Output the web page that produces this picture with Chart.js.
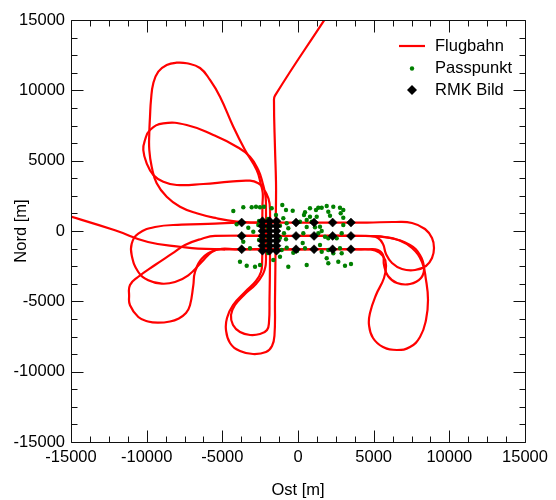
<!DOCTYPE html>
<html><head><meta charset="utf-8">
<script src="https://cdn.jsdelivr.net/npm/chart.js@4"></script>
<style>html,body{margin:0;padding:0;background:#fff;}#wrap{width:556px;height:500px;position:relative;}</style>
</head><body><div id="wrap"><canvas id="c" width="556" height="500"></canvas></div>
<script>
// ---------- DATA ----------
const majorTicks = [-15000, -10000, -5000, 0, 5000, 10000, 15000];
const minorTicks = [-13750, -12500, -11250, -8750, -7500, -6250, -3750, -2500, -1250,
  1250, 2500, 3750, 6250, 7500, 8750, 11250, 12500, 13750];

// Flugbahn (flight path), pieces as [Ost, Nord] in metres
const pathEntry = [
  [2300, 15920], [1784, 15070], [-1520, 9620], [-1586, 9197], [-1520, 5879], [-1454, 3505],
  [-1454, 2083], [-1480, 0], [-1490, -2000], [-1505, -3500], [-1520, -4905], [-1553, -7393],
  [-1718, -8175], [-2115, -8602], [-2974, -8744], [-3833, -8531], [-4493, -7962], [-4758, -7038],
  [-4692, -6185], [-4295, -5261], [-3502, -4336], [-2775, -3555], [-2445, -2915], [-2370, -2204],
  [-2360, 0], [-2350, 1800], [-2330, 2700], [-2445, 3270], [-2729, 4336], [-3502, 5758],
  [-4275, 7415], [-5154, 9547], [-5815, 10735], [-6476, 11588], [-7355, 11922], [-8016, 11965],
  [-8676, 11801], [-9231, 11325], [-9562, 10500], [-9714, 9313], [-9780, 8126], [-9826, 6967],
  [-9826, 5758], [-9668, 4571], [-9337, 3391], [-8676, 2438], [-7797, 1727], [-6694, 1258],
  [-5372, 903], [-4051, 661], [-2974, 600], [0, 600], [4560, 600],
  [6410, 640], [7533, 570], [8392, 142], [8855, -498], [8987, -1209], [8855, -1919], [8458, -2488],
  [7731, -2773], [6872, -2701], [6212, -2275], [5815, -1635], [5617, -924], [5286, -498],
  [4758, -355], [4097, -350], [0, -350], [-5485, -350],
  [-6344, -547], [-7467, -995], [-8326, -1614], [-9449, -2417], [-10573, -3270], [-11101, -3839],
  [-11160, -4600], [-11101, -5282], [-10553, -6114], [-9912, -6434], [-9231, -6519], [-8458, -6434],
  [-7910, -6235], [-7401, -5829], [-7137, -5282], [-6918, -3860], [-6806, -2915], [-6363, -1969],
  [-5485, -1372], [-4824, -1300], [0, -1300], [4097, -1300],
  [5088, -1386], [5617, -1777], [5815, -2417], [5683, -3341], [5154, -4550], [4758, -5829],
  [4692, -6682], [4956, -7607], [5617, -8246], [6542, -8460], [7401, -8246], [8062, -7536],
  [8458, -6327], [8590, -4905], [8458, -3483], [8194, -2204], [7533, -1209], [6608, -640],
  [5749, -427], [4758, -355], [4000, -350], [-4000, -350]
];
const pathWestLoop = [
  [-2500, 600], [-4000, 600], [-5485, 519], [-7685, 448], [-9449, 284], [-10553, -192],
  [-10989, -903], [-10989, -1727], [-10553, -2915], [-9892, -3505], [-9007, -3746], [-8128, -3626],
  [-7249, -3149], [-6363, -2204], [-5703, -1493], [-5042, -1260], [-4163, -1300], [0, -1300],
  [4626, -1300], [5286, -1351], [5617, -1706], [5683, -2417], [5947, -3199], [6542, -3697],
  [7401, -3768], [8128, -3341], [8326, -2630], [8062, -1706], [7401, -995], [6079, -498],
  [4427, -355], [0, -350]
];
const pathExit = [
  [-4824, -1300], [-6608, -1258], [-7665, -1137], [-9912, -782], [-12093, 50], [-15700, 1250]
];
const pathNorthSouth = [
  [-2115, -2062], [-2115, 1500], [-2150, 2500], [-2333, 3391], [-2623, 4336], [-3172, 5282],
  [-4051, 5993], [-5597, 6825], [-7355, 7536], [-8901, 7656], [-9780, 7180], [-10110, 6469],
  [-10223, 5758], [-9998, 4813], [-9562, 3981], [-8901, 3505], [-8016, 3270], [-6258, 3341],
  [-4493, 3505], [-3172, 3576], [-2623, 3391], [-2293, 3036], [-1950, 2300], [-1850, 1500],
  [-1850, -2000], [-1883, -4905], [-1916, -6469], [-2048, -7038], [-2511, -7322], [-3172, -7393],
  [-3833, -7180], [-4295, -6682], [-4427, -5972], [-4163, -5261], [-3502, -4479], [-2775, -3768],
  [-2313, -3057], [-2150, -2500], [-2115, -2062]
];
const pathPieces = [pathEntry, pathWestLoop, pathExit, pathNorthSouth];

// Passpunkte (ground control points)
const passpunkt = [
  [-4275, 1422], [-3615, 1685], [-3060, 1685], [-2775, 1727], [-2511, 1685], [-2247, 1727],
  [-1738, 1614], [-1037, 1848], [-793, 1493], [-350, 1443], [-4051, 476], [-3284, 235],
  [-2954, -50], [-971, 903], [-747, 547], [-641, 192], [-925, -164], [-1189, -476],
  [-3615, -761], [-3172, -1230], [-1077, -1351], [-747, -1187], [-3833, -2182], [-3390, -2467],
  [-2841, -2538], [-2511, -2417], [-1632, -2062], [-1189, -1827], [-641, -2538], [-1982, 853],
  [-1982, 213], [-1982, -427], [-1982, -995], [-1982, -1564], [-2577, 711], [-2577, -640],
  [-1454, 1137], [-1454, -924], [-2623, 427], [-1189, 377], [-793, -590], [-311, -1543],
  [-66, -1422], [132, 661], [350, -164], [463, -1230], [575, -2417], [575, 782],
  [463, 1329], [793, 1614], [1189, 1493], [1341, 1656], [1566, 1656], [1897, 1777],
  [2333, 1727], [2775, 1656], [2993, 1493], [905, 661], [1236, 1017], [2002, 1372],
  [2115, 1088], [2822, 1258], [2993, 945], [1454, 306], [1566, 0], [1784, -405],
  [2002, -519], [2993, 427], [311, -853], [1454, -995], [1566, -1472], [2002, -1351],
  [2333, -1585], [2775, -1230], [2888, -1585], [1897, -1941], [2002, -2296], [2663, -2182],
  [3106, -2467], [3502, -2346], [1341, -164], [2557, -519], [2888, -164], [575, 284],
  [1123, 263], [396, 1137], [793, 1017]
];

// RMK Bild (camera exposure positions)
const rmkBild = [
  [-3720, 600], [-130, 600], [1060, 600], [2290, 600], [3500, 600],
  [-3720, -350], [-130, -350], [1060, -350], [2290, -350], [3500, -350],
  [-3720, -1300], [-130, -1300], [1060, -1300], [2290, -1300], [3500, -1300],
  [-2350, 700], [-2350, 350], [-2350, 0], [-2350, -350], [-2350, -700], [-2350, -1050], [-2350, -1400],
  [-1880, 700], [-1880, 350], [-1880, 0], [-1880, -350], [-1880, -700], [-1880, -1050], [-1880, -1400],
  [-1420, 700], [-1420, 350], [-1420, 0], [-1420, -350], [-1420, -700], [-1420, -1050], [-1420, -1400]
];

const labels = { path: 'Flugbahn', gcp: 'Passpunkt', rmk: 'RMK Bild', x: 'Ost [m]', y: 'Nord [m]' };

// ---------- CHART ----------
const FAM = '"Liberation Sans", Arial, Helvetica, sans-serif';
const FS = 16.5;
const RED = '#ff0000', GREEN = '#008000', BLACK = '#000000';
const toXY = arr => arr.map(p => ({ x: p[0], y: p[1] }));

const datasets = pathPieces.map((piece, i) => ({
  label: labels.path, data: toXY(piece), showLine: true, borderColor: RED, borderWidth: 2.2,
  pointRadius: 0, pointHoverRadius: 0, tension: 0.45, fill: false, order: 3
}));
datasets.push({
  label: labels.gcp, data: toXY(passpunkt), showLine: false, pointRadius: 2.2,
  pointBackgroundColor: GREEN, backgroundColor: GREEN, pointBorderWidth: 0, borderColor: GREEN, order: 2
});
datasets.push({
  label: labels.rmk, data: toXY(rmkBild), showLine: false, pointStyle: 'rectRot', pointRadius: 4.5,
  pointBackgroundColor: BLACK, backgroundColor: BLACK, borderColor: BLACK, pointBorderWidth: 0.5, order: 1
});

const framePlugin = {
  id: 'frame',
  afterDatasetsDraw(chart) {
    const { ctx, chartArea: a, scales: { x, y } } = chart;
    ctx.save();
    ctx.strokeStyle = '#111';
    ctx.lineWidth = 1;
    const L = a.left + 0.5, R = a.right + 0.5, T = a.top + 0.5, B = a.bottom + 0.5;
    ctx.beginPath();
    ctx.rect(L, T, R - L, B - T);
    ctx.stroke();
    const tick = (vals, len) => {
      ctx.beginPath();
      vals.forEach(v => {
        const px = Math.round(x.getPixelForValue(v)) + 0.5;
        ctx.moveTo(px, B); ctx.lineTo(px, B - len);
        ctx.moveTo(px, T); ctx.lineTo(px, T + len);
        const py = Math.round(y.getPixelForValue(v)) + 0.5;
        ctx.moveTo(L, py); ctx.lineTo(L + len, py);
        ctx.moveTo(R, py); ctx.lineTo(R - len, py);
      });
      ctx.stroke();
    };
    tick(majorTicks, 12);
    tick(minorTicks, 6);
    ctx.restore();
  },
  afterDraw(chart) {
    const { ctx } = chart;
    ctx.save();
    ctx.font = FS + 'px ' + FAM;
    ctx.fillStyle = '#000';
    ctx.textAlign = 'left';
    ctx.textBaseline = 'alphabetic';
    const tx = 435, sx = 412;
    ctx.strokeStyle = RED; ctx.lineWidth = 2.2;
    ctx.beginPath(); ctx.moveTo(399, 46); ctx.lineTo(425, 46); ctx.stroke();
    ctx.fillText(labels.path, tx, 51);
    ctx.fillStyle = GREEN;
    ctx.beginPath(); ctx.arc(sx, 68.5, 2.2, 0, Math.PI * 2); ctx.fill();
    ctx.fillStyle = '#000';
    ctx.fillText(labels.gcp, tx, 73.3);
    ctx.beginPath();
    ctx.moveTo(sx - 5, 90); ctx.lineTo(sx, 85); ctx.lineTo(sx + 5, 90); ctx.lineTo(sx, 95); ctx.closePath();
    ctx.fill();
    ctx.fillText(labels.rmk, tx, 95);
    ctx.restore();
  }
};

const axisCommon = (titleText, isX) => ({
  type: 'linear', min: -15000, max: 15000,
  afterBuildTicks: s => { s.ticks = majorTicks.map(v => ({ value: v })); },
  ticks: { callback: v => String(v), font: { family: FAM, size: FS }, color: '#000', padding: 6,
    maxRotation: 0, minRotation: 0, autoSkip: false },
  grid: { display: false, drawTicks: false },
  border: { display: false },
  title: { display: true, text: titleText, color: '#000', font: { family: FAM, size: FS },
    padding: isX ? { top: 0, bottom: 0 } : { top: 12, bottom: 0 } },
  afterFit: s => { if (isX) s.height = 58; else s.width = 71; }
});

new Chart(document.getElementById('c'), {
  type: 'scatter',
  data: { datasets },
  options: {
    responsive: false, animation: false, devicePixelRatio: 1,
    layout: { padding: { top: 20, right: 31, left: 0, bottom: 0 } },
    plugins: { legend: { display: false }, tooltip: { enabled: false } },
    scales: { x: axisCommon(labels.x, true), y: axisCommon(labels.y, false) }
  },
  plugins: [framePlugin]
});
</script></body></html>
